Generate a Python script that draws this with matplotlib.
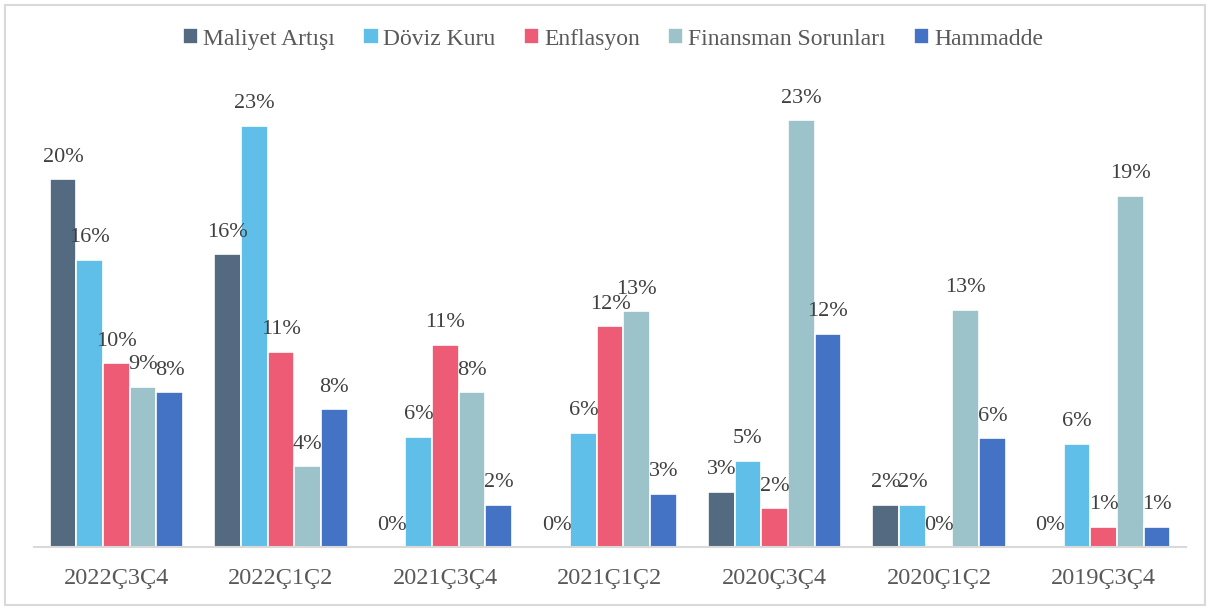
import matplotlib.pyplot as plt
import numpy as np
from matplotlib.patches import Rectangle

plt.rcParams['font.family'] = ['Liberation Serif', 'DejaVu Serif']

periods = ['2022Ç3Ç4', '2022Ç1Ç2', '2021Ç3Ç4', '2021Ç1Ç2', '2020Ç3Ç4', '2020Ç1Ç2', '2019Ç3Ç4']
series = ['Maliyet Artışı', 'Döviz Kuru', 'Enflasyon', 'Finansman Sorunları', 'Hammadde']

maliyet = [20.0, 15.9, 0.0, 0.0, 3.0, 2.3, 0.0]
doviz = [15.6, 22.9, 6.0, 6.2, 4.7, 2.3, 5.6]
enflasyon = [10.0, 10.6, 11.0, 12.0, 2.1, 0.0, 1.1]
finansman = [8.7, 4.4, 8.4, 12.8, 23.2, 12.9, 19.1]
hammadde = [8.4, 7.5, 2.3, 2.9, 11.6, 5.9, 1.1]

values = [maliyet, doviz, enflasyon, finansman, hammadde]
colors = ['#546A80', '#5FBFE8', '#EE5B75', '#9BC3C9', '#4472C4']

fig = plt.figure(figsize=(12.15, 6.08), dpi=100)
ax = fig.add_axes([34 / 1215, 61 / 608, 1152 / 1215, 467 / 608])

# light border round the chart
fig.patches.append(Rectangle((5 / 1215, 3 / 608), 1200 / 1215, 600 / 608,
                             transform=fig.transFigure, fill=False,
                             edgecolor='#D9D9D9', linewidth=1.5))

x = np.arange(len(periods))
w = 0.162
for i, (name, vals, c) in enumerate(zip(series, values, colors)):
    pos = x + (i - 2) * w
    bars = ax.bar(pos, vals, w, color=c, edgecolor='white', linewidth=1.2, label=name)
    for xp, v in zip(pos, vals):
        ax.annotate('%d%%' % round(v), (xp, v), xytext=(0, 9), textcoords='offset points',
                    ha='center', va='bottom', fontsize=16, color='#404040')

ax.set_xlim(-0.5, len(periods) - 0.5)
ax.set_ylim(0, 467 / 18.4)
ax.set_xticks(x)
ax.set_xticklabels(periods, fontsize=17.5, color='#595959')
ax.tick_params(axis='x', length=0, pad=15)
ax.set_yticks([])
for s in ['top', 'right', 'left']:
    ax.spines[s].set_visible(False)
ax.spines['bottom'].set_color('#D9D9D9')
ax.spines['bottom'].set_linewidth(1.5)

fig.legend(loc='center', bbox_to_anchor=(613 / 1215, 1 - 39 / 608), ncol=5, frameon=False,
           fontsize=17, handlelength=0.65, handleheight=0.65, handletextpad=0.2,
           columnspacing=1.2, labelcolor='#595959')

fig.savefig('out.png', dpi=100)
